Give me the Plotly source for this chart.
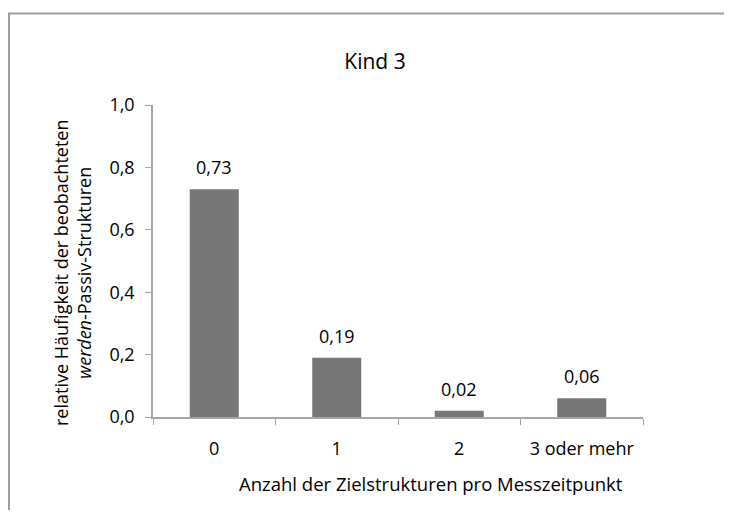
import plotly.graph_objects as go

categories = ["0", "1", "2", "3 oder mehr"]
values = [0.73, 0.19, 0.02, 0.06]
value_labels = ["0,73", "0,19", "0,02", "0,06"]
y_ticks = [0.0, 0.2, 0.4, 0.6, 0.8, 1.0]
y_tick_labels = ["0,0", "0,2", "0,4", "0,6", "0,8", "1,0"]

FONT = "Open Sans"
FS = 18
W, H = 717, 503
PL, PR, PT, PB = 145, 635, 97, 409
L, R, T, B = PL, W - PR, PT, H - PB
pw, ph = PR - PL, PB - PT

def px_x(p):
    return (p - L) / pw

def px_y(p):
    return (PB - p) / ph

fig = go.Figure()
fig.add_trace(go.Bar(
    x=categories, y=values,
    marker=dict(color="#767676", line=dict(width=0)),
    width=0.4,
    hoverinfo="skip",
))

for c, v, lab in zip(categories, values, value_labels):
    fig.add_annotation(x=c, y=v, text=lab, showarrow=False, yanchor="middle",
                       yshift=22, font=dict(family=FONT, size=FS, color="#000000"))

fig.add_annotation(xref="paper", yref="paper", x=px_x(64), y=px_y(265),
                   text="relative Häufigkeit der beobachteten<br><i>werden</i>-Passiv-Strukturen",
                   textangle=-90, showarrow=False, xanchor="center", yanchor="middle",
                   font=dict(family=FONT, size=FS, color="#000000"))

fig.add_annotation(xref="paper", yref="paper", x=px_x(423), y=px_y(475),
                   text="Anzahl der Zielstrukturen pro Messzeitpunkt", showarrow=False,
                   xanchor="center", yanchor="middle",
                   font=dict(family=FONT, size=18.5, color="#000000"))

# chart frame drawn as a path (top and left edges only)
fx0, fy0 = px_x(1), px_y(5.5)
fx1, fy1 = px_x(W - 1), px_y(H - 1)
fig.add_shape(type="path", xref="paper", yref="paper",
              path=f"M {fx1},{fy0} L {fx0},{fy0} L {fx0},{fy1}",
              line=dict(color="#9e9e9e", width=2), layer="below")

fig.update_layout(
    width=W, height=H,
    margin=dict(l=L, r=R, t=T, b=B),
    paper_bgcolor="white", plot_bgcolor="white",
    showlegend=False,
    title=dict(text="Kind 3", x=367 / W, xanchor="center", y=1 - 54 / H, yanchor="middle",
               xref="container", yref="container",
               font=dict(family=FONT, size=21, color="#000000")),
    font=dict(family=FONT, size=FS, color="#000000"),
)
fig.update_xaxes(
    type="category", showline=True, linecolor="#a6a6a6", linewidth=1.5,
    ticks="outside", tickson="boundaries", ticklen=6, tickcolor="#a6a6a6",
    showgrid=False, zeroline=False, ticklabelstandoff=15,
    tickfont=dict(family=FONT, size=FS, color="#000000"),
)
fig.update_yaxes(
    range=[0, 1.0], tickvals=y_ticks, ticktext=y_tick_labels,
    showline=True, linecolor="#a6a6a6", linewidth=1.5,
    ticks="outside", ticklen=6, tickcolor="#a6a6a6",
    showgrid=False, zeroline=False, ticklabelstandoff=7,
    tickfont=dict(family=FONT, size=FS, color="#000000"),
)

fig.write_html("out.html")
